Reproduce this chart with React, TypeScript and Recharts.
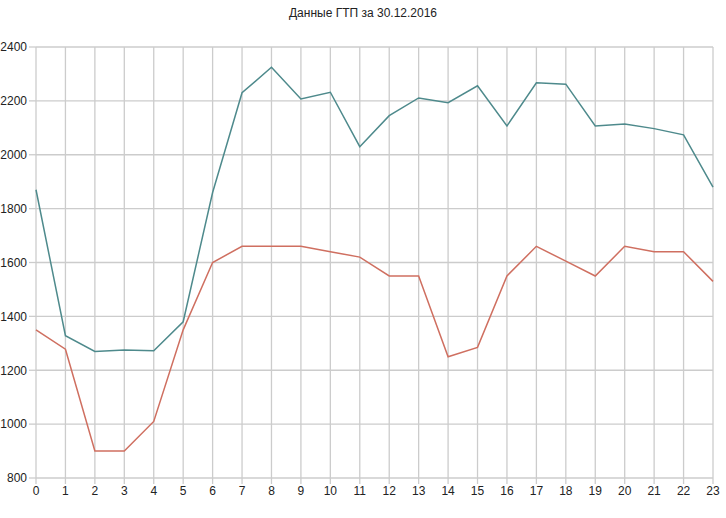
import React from "react";
import { LineChart, Line, XAxis, YAxis, CartesianGrid } from "recharts";

// hours of the day
const hours = [
  0, 1, 2, 3, 4, 5, 6, 7, 8, 9, 10, 11, 12, 13, 14, 15, 16, 17, 18, 19, 20, 21, 22, 23,
];

// upper (teal) series
const seriesA = [
  1870, 1328, 1270, 1275, 1272, 1380, 1860, 2230, 2325, 2207, 2232, 2030, 2145, 2211,
  2193, 2256, 2107, 2267, 2262, 2107, 2114, 2097, 2074, 1880,
];

// lower (red) series
const seriesB = [
  1350, 1278, 900, 900, 1010, 1350, 1600, 1660, 1660, 1660, 1640, 1620, 1550, 1550,
  1250, 1285, 1550, 1660, 1605, 1550, 1660, 1640, 1640, 1530,
];

const yTicks = [800, 1000, 1200, 1400, 1600, 1800, 2000, 2200, 2400];

const title = "Данные ГТП за 30.12.2016";

const data = hours.map((h, i) => ({ h, a: seriesA[i], b: seriesB[i] }));

const gridColor = "#cccccc";
const font = "'Liberation Sans', Arial, sans-serif";

export default function App() {
  const tickStyle = { fontSize: 12, fill: "#222", fontFamily: font };
  return (
    <div style={{ position: "absolute", left: 0, top: 0, width: 726, height: 518, background: "#fff" }}>
      <div
        style={{
          position: "absolute",
          top: 6,
          left: 0,
          width: 726,
          textAlign: "center",
          fontFamily: font,
          fontSize: 12,
          color: "#222",
        }}
      >
        {title}
      </div>
      <LineChart width={726} height={518} data={data} margin={{ top: 47, right: 13, bottom: 20, left: 0 }}>
        <CartesianGrid stroke={gridColor} strokeWidth={1.3} />
        <XAxis
          dataKey="h"
          axisLine={false}
          tickLine={{ stroke: gridColor, strokeWidth: 1.3 }}
          tickSize={6}
          tick={tickStyle}
          interval={0}
          height={20}
        />
        <YAxis
          domain={[800, 2400]}
          ticks={yTicks}
          axisLine={false}
          tickLine={{ stroke: gridColor, strokeWidth: 1.3 }}
          tickSize={7}
          tick={tickStyle}
          width={36}
          interval={0}
        />
        <Line
          type="linear"
          dataKey="a"
          stroke="#4e8a8c"
          strokeWidth={1.5}
          dot={false}
          isAnimationActive={false}
        />
        <Line
          type="linear"
          dataKey="b"
          stroke="#cf6f60"
          strokeWidth={1.5}
          dot={false}
          isAnimationActive={false}
        />
      </LineChart>
    </div>
  );
}
